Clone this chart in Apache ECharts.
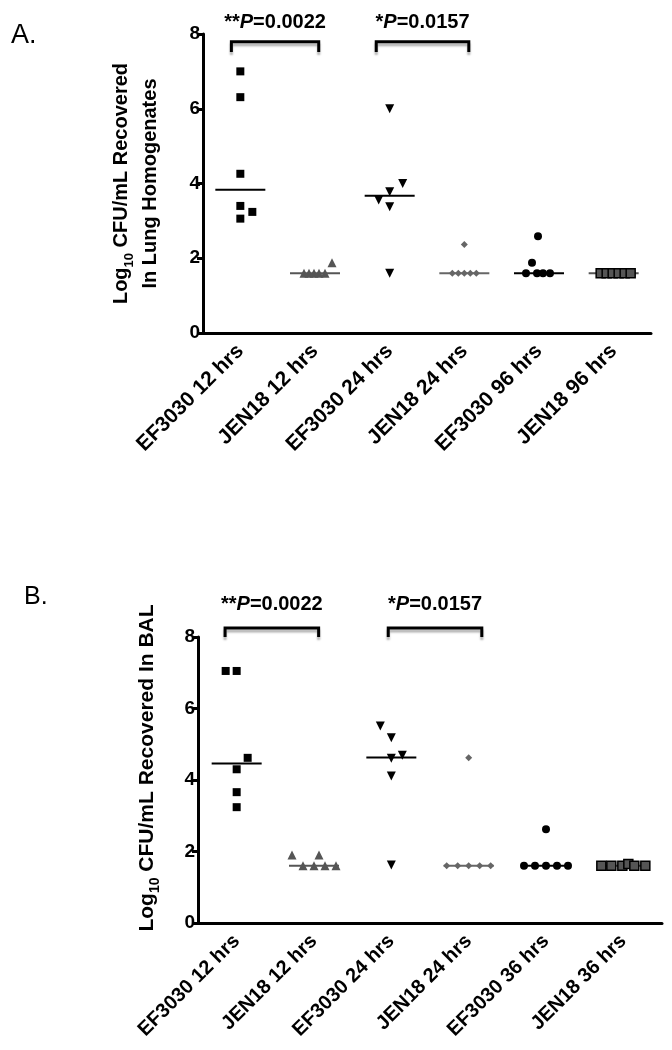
<!DOCTYPE html>
<html>
<head>
<meta charset="utf-8">
<script src="https://cdn.jsdelivr.net/npm/echarts@6/dist/echarts.min.js"></script>
<style>
  html, body { margin: 0; padding: 0; background: #fff; }
  #chart { width: 672px; height: 1050px; }
</style>
</head>
<body>
<div id="chart"></div>
<script>
// ---- data ----
const categoriesA = ['EF3030 12 hrs', 'JEN18 12 hrs', 'EF3030 24 hrs', 'JEN18 24 hrs', 'EF3030 96 hrs', 'JEN18 96 hrs']
const categoriesB = ['EF3030 12 hrs', 'JEN18 12 hrs', 'EF3030 24 hrs', 'JEN18 24 hrs', 'EF3030 36 hrs', 'JEN18 36 hrs']
const yTicks = [0, 2, 4, 6, 8]

// A: log10 CFU/mL in lung homogenates, one array per group (6 mice)
const lungA = [
  [7.0, 6.31, 4.26, 3.40, 3.24, 3.06],
  [1.88, 1.6, 1.6, 1.6, 1.6, 1.6],
  [6.0, 4.0, 3.78, 3.56, 3.38, 1.6],
  [2.37, 1.6, 1.6, 1.6, 1.6, 1.6],
  [2.59, 1.88, 1.6, 1.6, 1.6, 1.6],
  [1.6, 1.6, 1.6, 1.6, 1.6, 1.6]
]
const medianA = [3.83, 1.6, 3.67, 1.6, 1.6, 1.6]

// B: log10 CFU/mL in BAL
const balB = [
  [7.05, 7.05, 4.62, 4.30, 3.66, 3.24],
  [1.9, 1.9, 1.6, 1.6, 1.6, 1.6],
  [5.51, 5.18, 4.69, 4.61, 4.11, 1.62],
  [4.62, 1.6, 1.6, 1.6, 1.6, 1.6],
  [2.62, 1.6, 1.6, 1.6, 1.6, 1.6],
  [1.6, 1.6, 1.6, 1.65, 1.6, 1.6]
]
const medianB = [4.46, 1.6, 4.63, 1.6, 1.6, 1.6]

// significance brackets: spans in category units
const bracketSpanA = [[-0.12, 1.05], [1.82, 3.06]]
const bracketSpanB = [[-0.15, 1.06], [1.96, 3.17]]
const pStars = ['**', '*']
const pValues = ['0.0022', '0.0157']

// ---- styling ----
const FONT = '"Liberation Sans", Arial, Helvetica, sans-serif'
// horizontal spread of overlapping dots (px), same layout as the dot plot
const spreadA = [
  [0, 0, 0, 0, 12, 0],
  [17, -11, -6, -1, 4, 10],
  [0, 13, 0, -11, 0, 0],
  [0, -12, -6, 0, 6, 12],
  [-1, -7, -13, -2, 4, 11],
  [-13, -7, -1, 5, 11, 17]
]
const spreadB = [
  [-11, 0, 11, 0, 0, 0],
  [-22, 5, -11, 0, 11, 22],
  [-11, 0, 11, 0, 0, 0],
  [0, -22, -11, 0, 11, 22],
  [0, -22, -11, 0, 11, 22],
  [-22, -12, -1, 5, 11, 22]
]
const groupSymbol = ['rect', 'triangle', 'triangle', 'diamond', 'circle', 'rect']
const groupRotate = [0, 0, 180, 0, 0, 0]
const groupSize = [8, 9, 9, 7, 8, 9]
const groupColor = ['#000', '#555', '#000', '#666', '#000', '#555']
const groupBorder = [0, 0, 0, 0, 0, 1.5]

const chartDom = document.getElementById('chart')
const chart = echarts.init(chartDom, null, { renderer: 'canvas' })

const makeXAxis = (gridIndex, cats, fontSize) => ({
  type: 'category',
  gridIndex,
  data: cats,
  boundaryGap: true,
  axisLine: { lineStyle: { color: '#000', width: 3 } },
  axisTick: { alignWithLabel: true, length: 6, lineStyle: { color: '#000', width: 3 } },
  axisLabel: {
    interval: 0, rotate: 45, margin: 15,
    fontFamily: FONT, fontWeight: 'bold', fontSize, color: '#000'
  },
  splitLine: { show: false }
})

const makeYAxis = (gridIndex, name, fontSize, nameGap, padding) => ({
  type: 'value',
  gridIndex,
  min: yTicks[0],
  max: yTicks[yTicks.length - 1],
  interval: yTicks[1] - yTicks[0],
  axisLine: { show: true, lineStyle: { color: '#000', width: 3 } },
  axisTick: { show: true, length: 6, lineStyle: { color: '#000', width: 3 } },
  axisLabel: { margin: 3, fontFamily: FONT, fontWeight: 'bold', fontSize: 19, color: '#000' },
  splitLine: { show: false },
  name,
  nameLocation: 'middle',
  nameRotate: 90,
  nameGap,
  nameTextStyle: {
    fontFamily: FONT, fontWeight: 'bold', fontSize, color: '#000',
    lineHeight: 29, align: 'center', padding,
    rich: {
      sub: { fontFamily: FONT, fontWeight: 'bold', fontSize: Math.round(fontSize * 0.65), lineHeight: 14, verticalAlign: 'bottom', color: '#000' }
    }
  }
})

// one scatter series per group
const dotSeries = (p, values, spread) => values.map((vals, g) => ({
  type: 'scatter',
  xAxisIndex: p,
  yAxisIndex: p,
  symbol: groupSymbol[g],
  symbolRotate: groupRotate[g],
  symbolSize: groupSize[g],
  itemStyle: {
    color: groupColor[g],
    borderColor: '#000',
    borderWidth: groupBorder[g],
    opacity: 1
  },
  z: 4,
  data: vals.map((v, i) => ({ value: [g, v], symbolOffset: [spread[g][i], 0] }))
}))

const medianSeries = (p, medians) => ({
  type: 'custom',
  xAxisIndex: p,
  yAxisIndex: p,
  silent: true,
  z: 3,
  data: medians.map((m, g) => [g, m]),
  renderItem (params, api) {
    const pt = api.coord([api.value(0), api.value(1)])
    const g = params.dataIndex
    return {
      type: 'line',
      shape: { x1: pt[0] - 25, y1: pt[1], x2: pt[0] + 25, y2: pt[1] },
      style: { stroke: groupColor[g], lineWidth: 2 }
    }
  }
})

const bracketSeries = (p, spans, top, leg, textY, fontSize) => ({
  type: 'custom',
  xAxisIndex: p,
  yAxisIndex: p,
  silent: true,
  clip: false,
  z: 5,
  data: spans.map((s, i) => [i, top]),
  renderItem (params, api) {
    const i = params.dataIndex
    const x0 = api.coord([0, 0])[0]
    const band = api.coord([1, 0])[0] - x0
    const xa = x0 + spans[i][0] * band
    const xb = x0 + spans[i][1] * band
    const yt = api.coord([0, top])[1]
    const yl = api.coord([0, leg])[1]
    const ty = api.coord([0, textY])[1]
    return {
      type: 'group',
      children: [
        {
          type: 'polyline',
          shape: { points: [[xa, yl], [xa, yt], [xb, yt], [xb, yl]] },
          style: {
            stroke: '#000', lineWidth: 3, fill: null,
            shadowColor: 'rgba(0,0,0,0.3)', shadowOffsetY: 3, shadowBlur: 2
          }
        },
        {
          type: 'text',
          x: (xa + xb) / 2,
          y: ty,
          style: {
            text: `{n|${pStars[i]}}{i|P}{n|=${pValues[i]}}`,
            align: 'center',
            verticalAlign: 'middle',
            rich: {
              n: { fontFamily: FONT, fontWeight: 'bold', fontSize, fill: '#000' },
              i: { fontFamily: FONT, fontWeight: 'bold', fontStyle: 'italic', fontSize, fill: '#000' }
            }
          }
        }
      ]
    }
  }
})

const option = {
  animation: false,
  backgroundColor: '#fff',
  title: [
    { text: 'A.', left: 6, top: 17, textStyle: { fontFamily: FONT, fontWeight: 'normal', fontSize: 27, color: '#000' } },
    { text: 'B.', left: 19, top: 580, textStyle: { fontFamily: FONT, fontWeight: 'normal', fontSize: 25, color: '#000' } }
  ],
  grid: [
    { left: 203, top: 34, right: 21, height: 299 },
    { left: 198, top: 637, right: 10, height: 286 }
  ],
  xAxis: [
    makeXAxis(0, categoriesA, 21),
    makeXAxis(1, categoriesB, 20)
  ],
  yAxis: [
    makeYAxis(0, 'Log{sub|10} CFU/mL Recovered\nIn Lung Homogenates', 20, 38, 0),
    makeYAxis(1, 'Log{sub|10} CFU/mL Recovered In BAL', 21, 36, [0, 0, 0, 24])
  ],
  series: [
    medianSeries(0, medianA),
    medianSeries(1, medianB),
    ...dotSeries(0, lungA, spreadA),
    ...dotSeries(1, balB, spreadB),
    bracketSeries(0, bracketSpanA, 7.79, 7.52, 8.32, 20),
    bracketSeries(1, bracketSpanB, 8.25, 8.0, 8.9, 20)
  ]
}

chart.setOption(option)
window.addEventListener('resize', () => chart.resize())
</script>
</body>
</html>
